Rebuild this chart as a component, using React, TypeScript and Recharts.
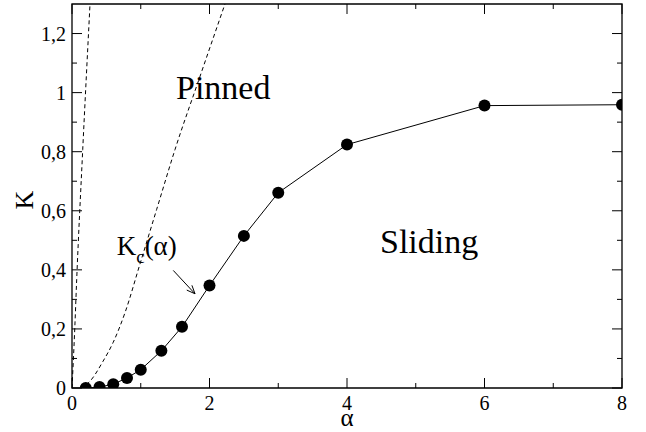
import React from 'react';
import { ComposedChart, Line, XAxis, YAxis, ReferenceDot, ReferenceLine, ReferenceArea, Label } from 'recharts';

// Main measured series K(alpha)
const alphaValues = [0.2, 0.4, 0.6, 0.8, 1.0, 1.3, 1.6, 2.0, 2.5, 3, 4, 6, 8];
const kValues = [0.0, 0.003, 0.013, 0.034, 0.062, 0.126, 0.207, 0.347, 0.515, 0.661, 0.824, 0.956, 0.959];

// Steep dashed curve near the K axis
const steepAlpha = [0, 0.04, 0.068, 0.156, 0.262];
const steepK = [0, 0.2, 0.366, 0.807, 1.3];

// Dashed curve Kc(alpha)
const kcAlpha = [0.12, 0.25, 0.45, 0.6, 0.771, 0.989, 1.232, 1.498, 1.862, 2.225];
const kcK = [0, 0.02, 0.09, 0.155, 0.255, 0.42, 0.605, 0.807, 1.055, 1.3];

// Ticks
const xTicks = [0, 1, 2, 3, 4, 5, 6, 7, 8];
const xTickLabels = ['0', '', '2', '', '4', '', '6', '', '8'];
const yTicks = [0, 0.1, 0.2, 0.3, 0.4, 0.5, 0.6, 0.7, 0.8, 0.9, 1.0, 1.1, 1.2];
const yTickLabels = ['0', '', '0,2', '', '0,4', '', '0,6', '', '0,8', '', '1', '', '1,2'];

// Annotations (data coordinates)
const pinnedPos = { x: 1.513, y: 0.98 };
const slidingPos = { x: 4.48, y: 0.457 };
const kcLabelPos = { x: 0.65, y: 0.451 };
const arrowSeg = [{ x: 1.473, y: 0.398 }, { x: 1.789, y: 0.319 }];

const mainData = alphaValues.map((a, i) => ({ alpha: a, K: kValues[i] }));
const steepData = steepAlpha.map((a, i) => ({ alpha: a, K: steepK[i] }));
const kcData = kcAlpha.map((a, i) => ({ alpha: a, K: kcK[i] }));

const FONT = '"Liberation Serif", "Times New Roman", Times, serif';
const MAJOR = 10;
const MINOR = 5;

const idxOf = (arr: number[], v: number) => {
  let best = 0;
  arr.forEach((t, i) => { if (Math.abs(t - v) < Math.abs(arr[best] - v)) best = i; });
  return best;
};

const bottomTick = (props: any) => {
  const { x, y, payload } = props;
  const lbl = xTickLabels[idxOf(xTicks, payload.value)];
  if (lbl === '') return <g />;
  return (
    <text x={x} y={y + 21.5} textAnchor="middle" style={{ fontFamily: FONT, fontSize: 20 }} fill="#000">{lbl}</text>
  );
};

const leftTick = (props: any) => {
  const { x, y, payload } = props;
  const lbl = yTickLabels[idxOf(yTicks, payload.value)];
  if (lbl === '') return <g />;
  return (
    <text x={x - 6} y={y + 7} textAnchor="end" style={{ fontFamily: FONT, fontSize: 20 }} fill="#000">{lbl}</text>
  );
};

// Inward tick marks on both ends of a vertical reference line
const makeXTickShape = (len: number) => (p: any) => {
  const x = p.x1;
  const yb = Math.max(p.y1, p.y2);
  const yt = Math.min(p.y1, p.y2);
  return (
    <g>
      <line x1={x} x2={x} y1={yb} y2={yb - len} stroke="#000" strokeWidth={1} />
      <line x1={x} x2={x} y1={yt} y2={yt + len} stroke="#000" strokeWidth={1} />
    </g>
  );
};

const makeYTickShape = (len: number) => (p: any) => {
  const y = p.y1;
  const xl = Math.min(p.x1, p.x2);
  const xr = Math.max(p.x1, p.x2);
  return (
    <g>
      <line x1={xl} x2={xl + len} y1={y} y2={y} stroke="#000" strokeWidth={1} />
      <line x1={xr} x2={xr - len} y1={y} y2={y} stroke="#000" strokeWidth={1} />
    </g>
  );
};

const textShape = (content: React.ReactNode, size: number) => (p: any) => (
  <text x={p.cx} y={p.cy} style={{ fontFamily: FONT, fontSize: size }} fill="#000">{content}</text>
);

const ArrowShape = (p: any) => {
  const { x1, y1, x2, y2 } = p;
  const ang = Math.atan2(y2 - y1, x2 - x1);
  const hl = 9;
  const spread = 0.4;
  const ax = x2 - hl * Math.cos(ang - spread);
  const ay = y2 - hl * Math.sin(ang - spread);
  const bx = x2 - hl * Math.cos(ang + spread);
  const by = y2 - hl * Math.sin(ang + spread);
  return (
    <g>
      <line x1={x1} y1={y1} x2={x2} y2={y2} stroke="#000" strokeWidth={1} />
      <polyline points={`${ax},${ay} ${x2},${y2} ${bx},${by}`} fill="none" stroke="#000" strokeWidth={1} />
    </g>
  );
};

export default function App() {
  return (
    <div style={{ position: 'absolute', left: 0, top: 0, width: 646, height: 432, background: '#fff' }}>
      <ComposedChart
        width={646}
        height={432}
        data={mainData}
        margin={{ top: 4, right: 24, bottom: 0, left: 0 }}
      >
        <XAxis
          dataKey="alpha"
          type="number"
          domain={[0, 8]}
          ticks={xTicks}
          interval={0}
          allowDataOverflow
          height={44}
          tickSize={0}
          tickMargin={0}
          tickLine={false}
          axisLine={false}
          tick={bottomTick}
        >
          <Label
            content={(p: any) => {
              const vb = p.viewBox;
              return (
                <text x={vb.x + vb.width / 2} y={vb.y + 38} textAnchor="middle" style={{ fontFamily: FONT, fontSize: 25 }} fill="#000">α</text>
              );
            }}
          />
        </XAxis>
        <YAxis
          type="number"
          domain={[0, 1.3]}
          ticks={yTicks}
          interval={0}
          allowDataOverflow
          width={72}
          tickSize={0}
          tickMargin={0}
          tickLine={false}
          axisLine={false}
          tick={leftTick}
        >
          <Label
            content={(p: any) => {
              const vb = p.viewBox;
              const cx = vb.x + 33;
              const cy = 200;
              return (
                <text x={cx} y={cy} textAnchor="middle" style={{ fontFamily: FONT, fontSize: 26 }} fill="#000" transform={`rotate(-90 ${cx} ${cy})`}>K</text>
              );
            }}
          />
        </YAxis>
        <ReferenceArea x1={0} x2={8} y1={0} y2={1.3} fill="none" fillOpacity={0} stroke="#000" strokeWidth={1.3} ifOverflow="visible" />
        {xTicks.map((t, i) => (
          <ReferenceLine key={`xt${i}`} x={t} ifOverflow="visible" shape={makeXTickShape(xTickLabels[i] !== '' ? MAJOR : MINOR)} />
        ))}
        {yTicks.map((t, i) => (
          <ReferenceLine key={`yt${i}`} y={t} ifOverflow="visible" shape={makeYTickShape(yTickLabels[i] !== '' ? MAJOR : MINOR)} />
        ))}
        <Line
          data={steepData}
          dataKey="K"
          type="monotone"
          stroke="#000"
          strokeWidth={1}
          strokeDasharray="4 3"
          dot={false}
          activeDot={false}
          isAnimationActive={false}
        />
        <Line
          data={kcData}
          dataKey="K"
          type="monotone"
          stroke="#000"
          strokeWidth={1}
          strokeDasharray="4 3"
          dot={false}
          activeDot={false}
          isAnimationActive={false}
        />
        <Line
          dataKey="K"
          type="linear"
          stroke="#000"
          strokeWidth={1}
          dot={{ r: 6, fill: '#000', stroke: '#000', strokeWidth: 0 }}
          activeDot={false}
          isAnimationActive={false}
        />
        <ReferenceLine segment={arrowSeg} shape={ArrowShape} ifOverflow="visible" />
        <ReferenceDot x={pinnedPos.x} y={pinnedPos.y} r={1} ifOverflow="visible" shape={textShape('Pinned', 34)} />
        <ReferenceDot x={slidingPos.x} y={slidingPos.y} r={1} ifOverflow="visible" shape={textShape('Sliding', 34)} />
        <ReferenceDot
          x={kcLabelPos.x}
          y={kcLabelPos.y}
          r={1}
          ifOverflow="visible"
          shape={textShape(
            <>
              <tspan>K</tspan>
              <tspan style={{ fontSize: 19 }} dy={8}>c</tspan>
              <tspan dy={-8}>(α)</tspan>
            </>,
            27
          )}
        />
      </ComposedChart>
    </div>
  );
}
